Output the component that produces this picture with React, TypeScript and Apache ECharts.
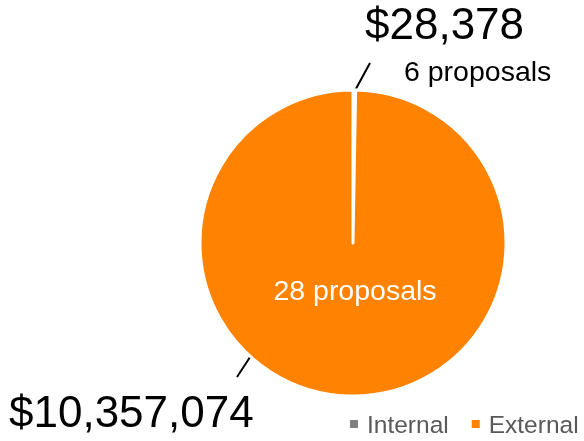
import React, { useEffect, useRef } from "react";
import * as echarts from "echarts";

const categories = ["Internal", "External"];
const amounts = [28378, 10357074];
const proposals = [6, 28];
const colors = ["#7F7F7F", "#FF8200"];
const proposalColors = ["#000000", "#ffffff"];

export default function App() {
  const ref = useRef<HTMLDivElement>(null);
  useEffect(() => {
    if (!ref.current) return;
    const chart = echarts.init(ref.current, null, { renderer: "svg" });
    const data = categories.map((name, i) => ({ name, value: amounts[i] }));
    const font = "'Liberation Sans', Arial, sans-serif";
    chart.setOption({
      animation: false,
      color: colors,
      legend: {
        data: categories,
        left: 348,
        top: 410,
        padding: 0,
        icon: "rect",
        itemWidth: 10,
        itemHeight: 10,
        itemGap: 21,
        textStyle: {
          fontFamily: font,
          fontSize: 24.5,
          color: "#595959",
          lineHeight: 28,
          padding: [0, 0, 0, 3],
        },
      },
      series: [
        {
          type: "pie",
          center: [353, 243],
          radius: 153,
          startAngle: 90,
          clockwise: true,
          avoidLabelOverlap: false,
          data,
          itemStyle: { borderColor: "#ffffff", borderWidth: 3 },
          emphasis: { disabled: true },
          label: {
            show: true,
            formatter: (p: any) => "$" + Number(p.value).toLocaleString("en-US"),
            fontFamily: font,
            fontSize: 44,
            color: "#000000",
          },
          labelLine: { show: true, lineStyle: { color: "#000000", width: 2 } },
          labelLayout: (p: any) => {
            if (p.dataIndex === 0) {
              return {
                x: 365,
                y: 23,
                align: "left",
                verticalAlign: "middle",
                labelLinePoints: [
                  [352, 96],
                  [370, 63],
                  [370, 63],
                ],
              };
            }
            return {
              x: 9,
              y: 411,
              align: "left",
              verticalAlign: "middle",
              labelLinePoints: [
                [258, 345],
                [237, 377],
                [237, 377],
              ],
            };
          },
        },
        {
          type: "pie",
          center: [353, 243],
          radius: 153,
          startAngle: 90,
          clockwise: true,
          avoidLabelOverlap: false,
          silent: true,
          data: data.map((d, i) => ({
            ...d,
            label: { color: proposalColors[i] },
          })),
          itemStyle: { color: "rgba(0,0,0,0)", borderWidth: 0 },
          emphasis: { disabled: true },
          label: {
            show: true,
            formatter: (p: any) => proposals[p.dataIndex] + " proposals",
            fontFamily: font,
            fontSize: 28.5,
          },
          labelLine: { show: false },
          labelLayout: (p: any) => {
            if (p.dataIndex === 0) {
              return { x: 404, y: 71, align: "left", verticalAlign: "middle" };
            }
            return { x: 355, y: 290, align: "center", verticalAlign: "middle" };
          },
        },
      ],
    });
    return () => chart.dispose();
  }, []);
  return (
    <div
      ref={ref}
      style={{ position: "fixed", left: 0, top: 0, width: 584, height: 441 }}
    />
  );
}
